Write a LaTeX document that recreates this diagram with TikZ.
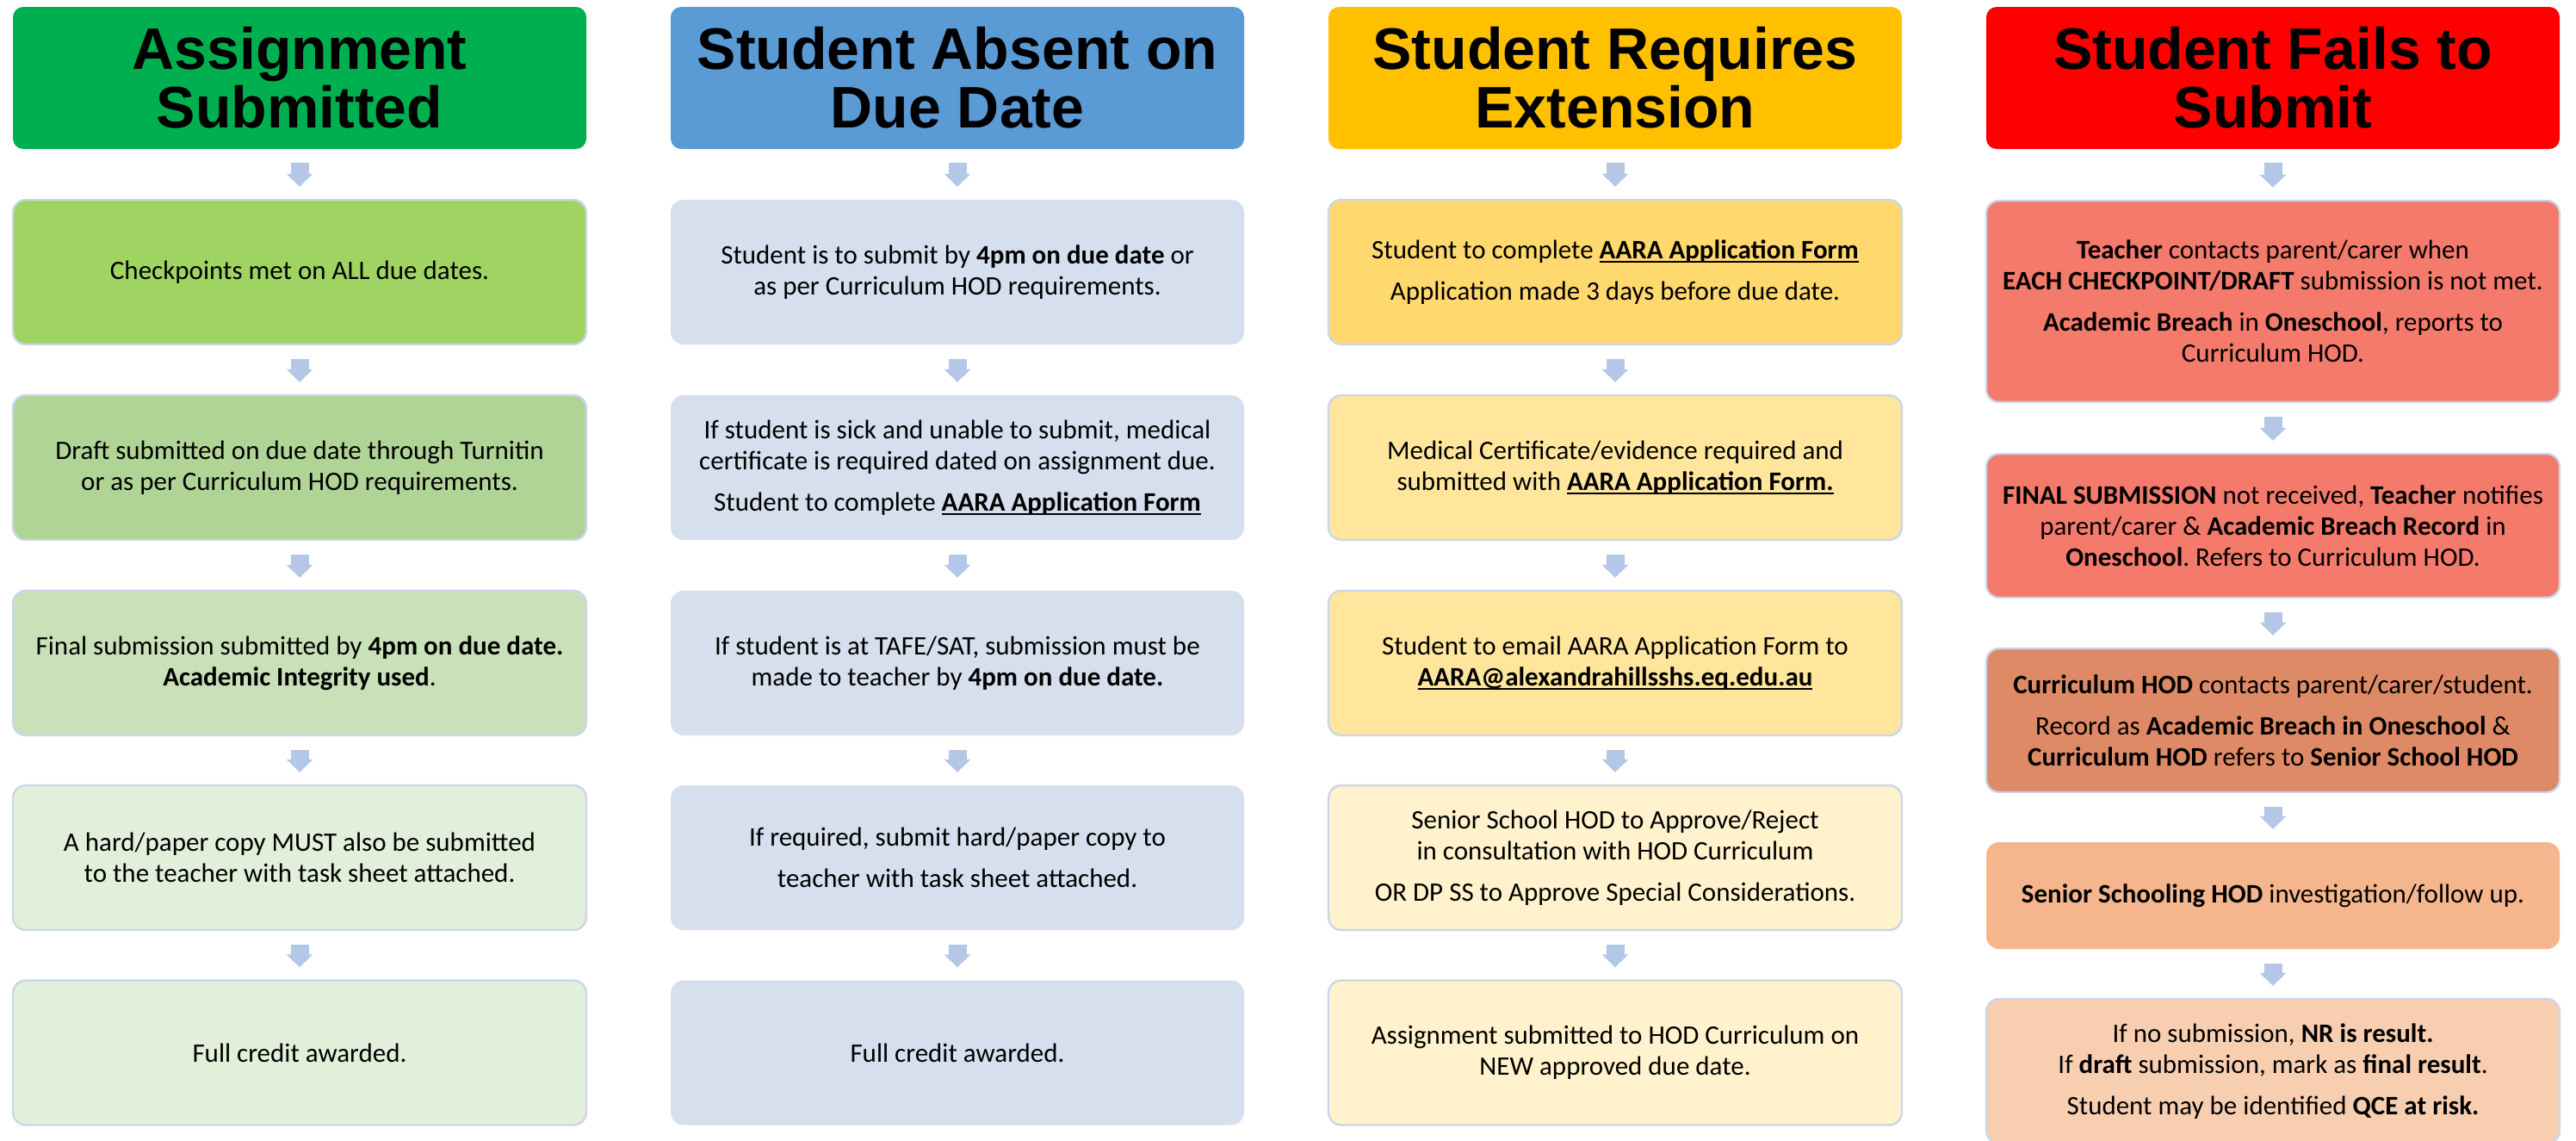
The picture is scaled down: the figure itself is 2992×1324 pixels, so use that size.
\documentclass[tikz,border=0pt]{standalone}
\usepackage{fontspec}
\setmainfont{Carlito}
\newfontfamily\headfamily{Liberation Sans}
\usetikzlibrary{arrows.meta}
\frenchspacing
\definecolor{hgreen}{HTML}{00B050}
\definecolor{hblue}{HTML}{5B9BD5}
\definecolor{hyellow}{HTML}{FFC000}
\definecolor{hred}{HTML}{FF0000}
\definecolor{gA}{HTML}{9FD463}
\definecolor{gB}{HTML}{B0D496}
\definecolor{gC}{HTML}{C9E1B8}
\definecolor{gD}{HTML}{E2EFDA}
\definecolor{bl}{HTML}{D5DFEE}
\definecolor{yA}{HTML}{FFD96D}
\definecolor{yB}{HTML}{FFE69C}
\definecolor{yC}{HTML}{FFF2CC}
\definecolor{rA}{HTML}{F47A6B}
\definecolor{rB}{HTML}{DF8A66}
\definecolor{rC}{HTML}{F5B68D}
\definecolor{rD}{HTML}{F8CEB0}
\definecolor{arr}{HTML}{B4C7E7}
\definecolor{bord}{HTML}{CAD6EB}
\newcommand\ulx[1]{\leavevmode\sbox0{#1}\rlap{\rule[-2.4pt]{\wd0}{0.9pt}}\usebox0}
\begin{document}
\begin{tikzpicture}[x=0.5pt,y=-0.5pt,
  head/.style={rounded corners=6pt, minimum width=333pt, minimum height=82.5pt, inner sep=0pt, align=center,
    font=\headfamily\bfseries\fontsize{34pt}{34pt}\selectfont},
  box/.style={draw=bord, line width=1.2pt, rounded corners=7.5pt, minimum width=333pt, minimum height=84pt,
    inner sep=0pt, align=center, font=\fontsize{15.5pt}{18pt}\selectfont},
  flow/.style={draw=arr, line width=10.5pt, -{Triangle[width=15pt,length=7.5pt]}, shorten <=8pt, shorten >=7pt}]
\clip (0,0) rectangle (2992,1324);
\fill[white] (0,0) rectangle (2992,1324);
% headers
\node[head, fill=hgreen] (a0) at (348,90.5) {Assignment\\Submitted};
\node[head, fill=hblue] (b0) at (1112,90.5) {Student Absent on\\Due Date};
\node[head, fill=hyellow] (c0) at (1876,90.5) {Student Requires\\Extension};
\node[head, fill=hred] (d0) at (2640,90.5) {Student Fails to\\Submit};
% column 1
\node[box, fill=gA] (a1) at (348,316) {Checkpoints met on ALL due dates.};
\node[box, fill=gB] (a2) at (348,543) {Draft submitted on due date through Turnitin\\or as per Curriculum HOD requirements.};
\node[box, fill=gC] (a3) at (348,770) {Final submission submitted by \textbf{4pm on due date.}\\\textbf{Academic Integrity used}.};
\node[box, fill=gD] (a4) at (348,996) {A hard/paper copy MUST also be submitted\\to the teacher with task sheet attached.};
\node[box, fill=gD] (a5) at (348,1222.5) {Full credit awarded.};
% column 2
\node[box, fill=bl, draw=none] (b1) at (1112,316) {Student is to submit by \textbf{4pm on due date} or\\as per Curriculum HOD requirements.};
\node[box, fill=bl, draw=none] (b2) at (1112,543) {If student is sick and unable to submit, medical\\certificate is required dated on assignment due.\\[6pt]Student to complete \ulx{\textbf{AARA Application Form}}};
\node[box, fill=bl, draw=none] (b3) at (1112,770) {If student is at TAFE/SAT, submission must be\\made to teacher by \textbf{4pm on due date.}};
\node[box, fill=bl, draw=none] (b4) at (1112,996) {If required, submit hard/paper copy to\\[6pt]teacher with task sheet attached.};
\node[box, fill=bl, draw=none] (b5) at (1112,1222.5) {Full credit awarded.};
% column 3
\node[box, fill=yA] (c1) at (1876,316) {Student to complete \ulx{\textbf{AARA Application Form}}\\[6pt]Application made 3 days before due date.};
\node[box, fill=yB] (c2) at (1876,543) {Medical Certificate/evidence required and\\submitted with \ulx{\textbf{AARA Application Form.}}};
\node[box, fill=yB] (c3) at (1876,770) {Student to email AARA Application Form to\\\ulx{\textbf{AARA@alexandrahillsshs.eq.edu.au}}};
\node[box, fill=yC] (c4) at (1876,996) {Senior School HOD to Approve/Reject\\in consultation with HOD Curriculum\\[6pt]OR DP SS to Approve Special Considerations.};
\node[box, fill=yC] (c5) at (1876,1222.5) {Assignment submitted to HOD Curriculum on\\NEW approved due date.};
% column 4
\node[box, fill=rA, minimum height=117pt] (d1) at (2640,350) {\textbf{Teacher} contacts parent/carer when\\\textbf{EACH CHECKPOINT/DRAFT} submission is not met.\\[6pt]\textbf{Academic Breach} in \textbf{Oneschool}, reports to\\Curriculum HOD.};
\node[box, fill=rA, minimum height=83.5pt] (d2) at (2640,610.5) {\textbf{FINAL SUBMISSION} not received, \textbf{Teacher} notifies\\parent/carer \& \textbf{Academic Breach Record} in\\\textbf{Oneschool}. Refers to Curriculum HOD.};
\node[box, fill=rB, minimum height=83.5pt] (d3) at (2640,836.5) {\textbf{Curriculum HOD} contacts parent/carer/student.\\[6pt]Record as \textbf{Academic Breach in Oneschool} \&\\\textbf{Curriculum HOD} refers to \textbf{Senior School HOD}};
\node[box, fill=rC, draw=none, minimum height=62pt] (d4) at (2640,1040) {\textbf{Senior Schooling HOD} investigation/follow up.};
\node[box, fill=rD, minimum height=84pt] (d5) at (2640,1244) {If no submission, \textbf{NR is result.}\\If \textbf{draft} submission, mark as \textbf{final result}.\\[6pt]Student may be identified \textbf{QCE at risk.}};
% arrows
\foreach \c in {a,b,c,d}
  \foreach \i/\j in {0/1,1/2,2/3,3/4,4/5}
    \draw[flow] (\c\i) -- (\c\j);
\end{tikzpicture}
\end{document}
